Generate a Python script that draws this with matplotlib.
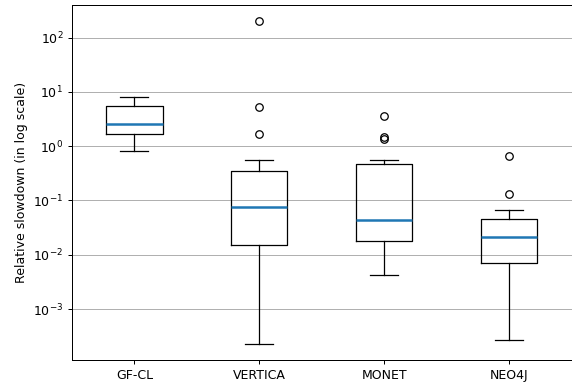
import matplotlib
matplotlib.use("Agg")
import matplotlib.pyplot as plt
import matplotlib.ticker as mticker

systems = ["GF-CL", "VERTICA", "MONET", "NEO4J"]
whislo = [0.82, 2.29e-4, 0.00416, 2.67e-4]
q1 = [1.71, 0.0150, 0.0176, 0.00692]
med = [2.54, 0.0743, 0.0434, 0.0214]
q3 = [5.4, 0.356, 0.472, 0.0453]
whishi = [8.2, 0.552, 0.552, 0.0671]
fliers = [[], [203, 5.16, 1.66], [3.61, 1.45, 1.35], [0.654, 0.1306]]

stats = []
for i, name in enumerate(systems):
    stats.append(dict(label=name, whislo=whislo[i], q1=q1[i], med=med[i],
                      q3=q3[i], whishi=whishi[i], fliers=fliers[i]))

fig = plt.figure(figsize=(572 / 90, 384 / 90), dpi=90)
ax = fig.add_axes([72 / 572, 24 / 384, 499.5 / 572, 355.3 / 384])

ax.bxp(stats, widths=0.45,
       boxprops=dict(color="black", linewidth=1),
       whiskerprops=dict(color="black", linewidth=1),
       capprops=dict(color="black", linewidth=1),
       medianprops=dict(color="#1f77b4", linewidth=2),
       flierprops=dict(marker="o", markerfacecolor="none",
                       markeredgecolor="black", markersize=6))

ax.set_yscale("log")
ax.yaxis.set_minor_locator(mticker.NullLocator())
ax.set_ylabel("Relative slowdown (in log scale)")
ax.yaxis.grid(True, color="#b0b0b0", linewidth=0.8)
ax.set_axisbelow(True)

fig.savefig("out.png", dpi=90)
